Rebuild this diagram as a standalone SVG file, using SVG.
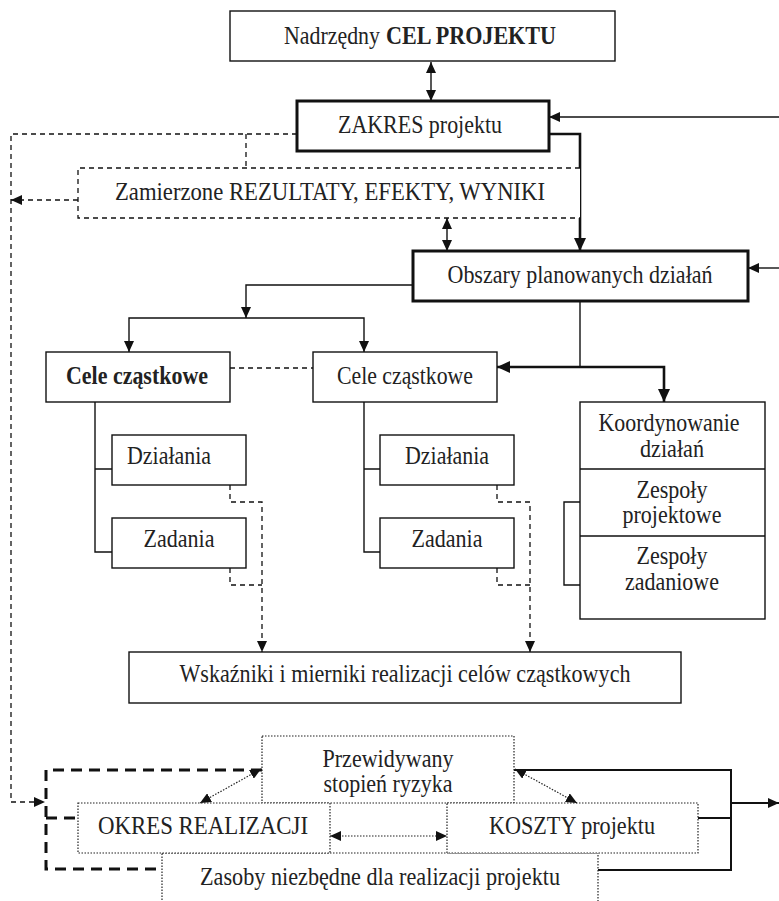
<svg xmlns="http://www.w3.org/2000/svg" width="779" height="901" viewBox="0 0 779 901">
<style>
  text { font-family: "Liberation Serif", "Times New Roman", serif; font-size: 25px; fill: #222; text-anchor: middle; }
  .st { text-anchor: start; }
  .b { fill: #fff; stroke: #111; stroke-width: 1.4; }
  .bt { fill: #fff; stroke: #111; stroke-width: 3; }
  .bd { fill: #fff; stroke: #111; stroke-width: 1.3; stroke-dasharray: 5 4; }
  .bo { fill: #fff; stroke: #222; stroke-width: 1.2; stroke-dasharray: 1.5 1.5; }
  .l { fill: none; stroke: #111; stroke-width: 1.4; }
  .lt { fill: none; stroke: #111; stroke-width: 2.6; }
  .lm { fill: none; stroke: #111; stroke-width: 2; }
  .ld { fill: none; stroke: #111; stroke-width: 1.3; stroke-dasharray: 5 4; }
  .ldt { fill: none; stroke: #111; stroke-width: 3; stroke-dasharray: 11 7; }
  .lo { fill: none; stroke: #222; stroke-width: 1.2; stroke-dasharray: 1.5 1.5; }
</style>
<defs>
  <marker id="ah" markerUnits="userSpaceOnUse" markerWidth="11" markerHeight="10" refX="11" refY="5" orient="auto-start-reverse">
    <path d="M0,0 L11,5 L0,10 z" fill="#111"/>
  </marker>
  <marker id="ahb" markerUnits="userSpaceOnUse" markerWidth="13" markerHeight="12" refX="13" refY="6" orient="auto-start-reverse">
    <path d="M0,0 L13,6 L0,12 z" fill="#111"/>
  </marker>
</defs>

<g id="connectors">
  <path class="l" d="M431,62 V101" marker-start="url(#ah)" marker-end="url(#ah)"/>
  <path class="l" d="M779,117 H549" marker-end="url(#ah)"/>
  <path class="lt" d="M549,134 H580 V251" marker-end="url(#ahb)"/>
  <path class="ld" d="M297,134 H11 V802 H45" marker-end="url(#ah)"/>
  <path class="ld" d="M246,134 V168"/>
  <path class="ld" d="M78,200 H11" marker-end="url(#ah)"/>
  <path class="l" d="M447,218 V251" marker-start="url(#ah)" marker-end="url(#ah)"/>
  <path class="l" d="M779,268 H748" marker-end="url(#ah)"/>
  <path class="l" d="M413,285 H246 V318" marker-end="url(#ah)"/>
  <path class="l" d="M129,352 V318 H364 V352" marker-start="url(#ah)" marker-end="url(#ah)"/>
  <path class="ld" d="M230,368 H313"/>
  <path class="l" d="M580,301 V367"/>
  <path class="lt" d="M580,367 H497" marker-end="url(#ahb)"/>
  <path class="lt" d="M580,367 H664 V402" marker-end="url(#ahb)"/>
  <path class="l" d="M95,402 V552 H112 M95,469 H112"/>
  <path class="l" d="M364,402 V552 H380 M364,469 H380"/>
  <path class="ld" d="M230,485 V502 H262 V652" marker-end="url(#ah)"/>
  <path class="ld" d="M230,568 V585 H262"/>
  <path class="ld" d="M497,485 V502 H530 V652" marker-end="url(#ah)"/>
  <path class="ld" d="M497,568 V585 H530"/>
  <path class="l" d="M580,502 H564 V585 H580"/>
  <path class="ldt" d="M262,770 H46 V869 H156"/>
  <path class="ldt" d="M46,818 H78"/>
  <path class="lm" d="M514,770 H731 V870 H598 M698,818 H731"/>
  <path class="lm" d="M731,803 H779" marker-end="url(#ah)"/>
</g>

<g id="n-cel"><rect class="b" x="230" y="11" width="385" height="50"/><text class="st" x="284" y="44" textLength="96" lengthAdjust="spacingAndGlyphs">Nadrzędny</text><text class="st" x="386" y="44" font-weight="bold" textLength="170" lengthAdjust="spacingAndGlyphs">CEL PROJEKTU</text></g>
<g id="n-zakres"><rect class="bt" x="297" y="101" width="252" height="50"/><text x="420" y="133" textLength="164" lengthAdjust="spacingAndGlyphs">ZAKRES projektu</text></g>
<g id="n-rezultaty"><path class="bd" d="M580,168 H78 V218 H580"/><text x="330" y="200" textLength="430" lengthAdjust="spacingAndGlyphs">Zamierzone REZULTATY, EFEKTY, WYNIKI</text></g>
<g id="n-obszary"><rect class="bt" x="413" y="251" width="335" height="50"/><text x="580" y="283" textLength="265" lengthAdjust="spacingAndGlyphs">Obszary planowanych działań</text></g>
<g id="n-cele1"><rect class="b" x="46" y="352" width="184" height="50"/><text x="137" y="384" font-weight="bold" textLength="142" lengthAdjust="spacingAndGlyphs">Cele cząstkowe</text></g>
<g id="n-cele2"><rect class="b" x="313" y="352" width="184" height="50"/><text x="405" y="384" textLength="136" lengthAdjust="spacingAndGlyphs">Cele cząstkowe</text></g>
<g id="n-dzialania1"><rect class="b" x="112" y="435" width="134" height="50"/><text x="169" y="464" textLength="84" lengthAdjust="spacingAndGlyphs">Działania</text></g>
<g id="n-zadania1"><rect class="b" x="112" y="518" width="134" height="50"/><text x="179" y="547" textLength="71" lengthAdjust="spacingAndGlyphs">Zadania</text></g>
<g id="n-dzialania2"><rect class="b" x="380" y="435" width="134" height="50"/><text x="447" y="464" textLength="84" lengthAdjust="spacingAndGlyphs">Działania</text></g>
<g id="n-zadania2"><rect class="b" x="380" y="518" width="134" height="50"/><text x="447" y="547" textLength="71" lengthAdjust="spacingAndGlyphs">Zadania</text></g>
<g id="n-koord">
  <rect class="b" x="580" y="402" width="185" height="217"/>
  <path class="l" d="M580,469 H765 M580,536 H765"/>
  <text x="669" y="431" textLength="141" lengthAdjust="spacingAndGlyphs">Koordynowanie</text>
  <text x="672" y="457" textLength="64" lengthAdjust="spacingAndGlyphs">działań</text>
  <text x="672" y="498" textLength="71" lengthAdjust="spacingAndGlyphs">Zespoły</text>
  <text x="672" y="523" textLength="99" lengthAdjust="spacingAndGlyphs">projektowe</text>
  <text x="672" y="564" textLength="71" lengthAdjust="spacingAndGlyphs">Zespoły</text>
  <text x="672" y="590" textLength="94" lengthAdjust="spacingAndGlyphs">zadaniowe</text>
</g>
<g id="n-wskazniki"><rect class="b" x="129" y="652" width="552" height="51"/><text x="405" y="682" textLength="451" lengthAdjust="spacingAndGlyphs">Wskaźniki i mierniki realizacji celów cząstkowych</text></g>
<g id="n-ryzyko"><rect class="bo" x="262" y="736" width="252" height="67"/><text x="388" y="767" textLength="131" lengthAdjust="spacingAndGlyphs">Przewidywany</text><text x="388" y="792" textLength="129" lengthAdjust="spacingAndGlyphs">stopień ryzyka</text></g>
<g id="n-zasoby"><rect class="bo" x="162" y="853" width="436" height="60"/><text x="380" y="885" textLength="360" lengthAdjust="spacingAndGlyphs">Zasoby niezbędne dla realizacji projektu</text></g>
<g id="n-okres"><rect class="bo" x="78" y="803" width="252" height="50"/><text x="203" y="834" textLength="210" lengthAdjust="spacingAndGlyphs">OKRES REALIZACJI</text></g>
<g id="n-koszty"><rect class="bo" x="447" y="803" width="251" height="50"/><text x="572" y="834" textLength="166" lengthAdjust="spacingAndGlyphs">KOSZTY projektu</text></g>

<g id="connectors-dotted">
  <path class="lo" d="M330,836 H447" marker-start="url(#ah)" marker-end="url(#ah)"/>
  <path class="lo" d="M261,769 L200,803" marker-start="url(#ah)" marker-end="url(#ah)"/>
  <path class="lo" d="M515,769 L577,803" marker-start="url(#ah)" marker-end="url(#ah)"/>
</g>
</svg>
